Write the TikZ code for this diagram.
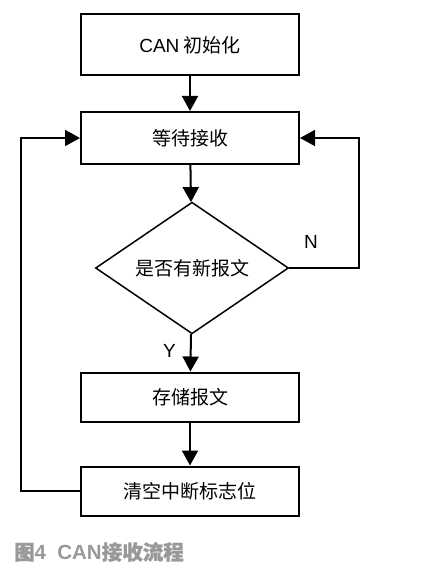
\documentclass[tikz,border=0pt]{standalone}
\usepackage{fontspec}
\setmainfont{Liberation Sans}
\newfontfamily\cjk{Noto Sans CJK SC}
\newfontfamily\cjkbold[FakeBold=1.2]{Noto Sans CJK SC}
\usetikzlibrary{shapes.geometric,arrows.meta,positioning}
\definecolor{capgray}{HTML}{999999}

\begin{document}
\begin{tikzpicture}[
  x=1pt, y=-1pt,
  every node/.style={font=\fontsize{19}{21}\selectfont, inner sep=0pt},
  procbox/.style={rectangle, draw, line width=2pt, minimum width=218pt, font=\cjk\fontsize{19}{21}\selectfont},
  decide/.style={diamond, draw, line width=1.5pt, minimum width=193pt, minimum height=130pt, font=\cjk\fontsize{19}{21}\selectfont},
  flow/.style={draw, line width=2pt, -{Triangle[length=15pt,width=16pt]}}
]
\useasboundingbox (0,0) rectangle (446,572);
% main column
\node[procbox, minimum height=61pt] (init)  at (190,45)  {{\rmfamily CAN} 初始化};
\node[procbox, minimum height=52pt] (wait)  at (190,138) {等待接收};
\node[decide]                       (check) at (192,268) {是否有新报文};
\node[procbox, minimum height=49pt] (store) at (190,397) {存储报文};
\node[procbox, minimum height=49pt] (clear) at (190,491) {清空中断标志位};
\draw[flow] (init) -- (wait);
\draw[flow] (wait) -- (check);
\draw[flow] (check) -- node[left=14pt, pos=0.45] (yes) {Y} (store);
\draw[flow] (store) -- (clear);
% loops back
\coordinate (rturn) at (359,268);
\coordinate (lturn) at (21,491);
\draw[flow, line width=1.5pt] (check.east) -- (rturn) |- (wait.east);
\node (no) at (311,242) {N};
\draw[flow] (clear.west) -- (lturn) |- (wait.west);
% caption
\node[anchor=west, text=capgray, font=\bfseries\fontsize{20.5}{22}\selectfont] (cap) at (14,552) {{\cjkbold 图}4\hspace{0.55em}CAN{\cjkbold 接收流程}};
\end{tikzpicture}
\end{document}
